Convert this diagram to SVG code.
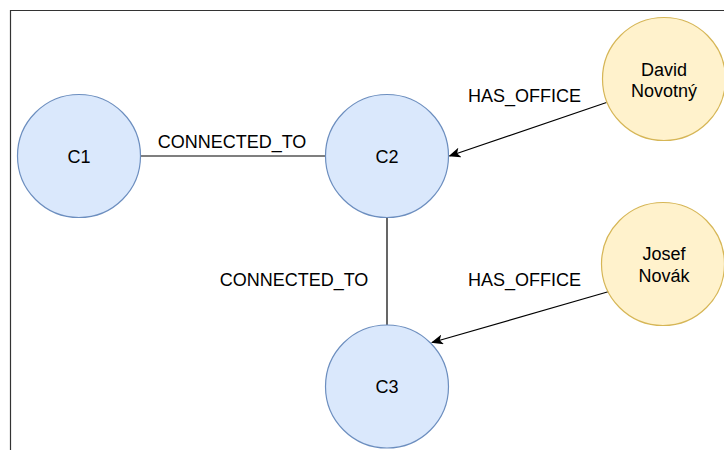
<svg xmlns="http://www.w3.org/2000/svg" width="724" height="450" viewBox="0 0 724 450">
  <style>
    text { font-family: "Liberation Sans", Arial, Helvetica, sans-serif; font-size: 18px; fill: #000; }
    .mid { text-anchor: middle; }
    .company circle { fill: #dae8fc; stroke: #6c8ebf; stroke-width: 1.2; }
    .person circle { fill: #fff2cc; stroke: #d6b656; stroke-width: 1.2; }
    .edge { stroke: #000; stroke-width: 1.2; fill: none; }
  </style>
  <defs>
    <marker id="arrow" viewBox="0 0 12 10" refX="11" refY="5" markerWidth="12" markerHeight="10" markerUnits="userSpaceOnUse" orient="auto">
      <path d="M0,0 L12,5 L0,10 L3,5 Z" fill="#000"/>
    </marker>
  </defs>

  <rect fill="#fff" width="724" height="450"/>
  <!-- page frame -->
  <path d="M10.5,460 V10.5 H740" fill="none" stroke="#333" stroke-width="1.2"/>

  <g id="connectors">
    <line class="edge" x1="140" y1="156" x2="325.5" y2="156"/>
    <text class="mid" x="232" y="147.5">CONNECTED_TO</text>
    <line class="edge" x1="387" y1="217.5" x2="387" y2="325"/>
    <text class="mid" x="294" y="286">CONNECTED_TO</text>
    <line class="edge" x1="606.5" y1="102.5" x2="449.5" y2="156" marker-end="url(#arrow)"/>
    <text class="mid" x="524.5" y="102">HAS_OFFICE</text>
    <line class="edge" x1="609" y1="291.5" x2="432" y2="342.5" marker-end="url(#arrow)"/>
    <text class="mid" x="524.5" y="286">HAS_OFFICE</text>
  </g>

  <g id="C1" class="company">
    <circle cx="79" cy="156" r="61.5"/>
    <text class="mid" x="79" y="162.5">C1</text>
  </g>
  <g id="C2" class="company">
    <circle cx="387" cy="156" r="61.5"/>
    <text class="mid" x="387" y="162.5">C2</text>
  </g>
  <g id="C3" class="company">
    <circle cx="387" cy="386.5" r="61.5"/>
    <text class="mid" x="387" y="393">C3</text>
  </g>
  <g id="david" class="person">
    <circle cx="664" cy="79" r="61.5"/>
    <text class="mid" x="664" y="76">David</text>
    <text class="mid" x="664" y="97">Novotný</text>
  </g>
  <g id="josef" class="person">
    <circle cx="663" cy="264" r="61.5"/>
    <text class="mid" x="664" y="260">Josef</text>
    <text class="mid" x="664" y="281.5">Novák</text>
  </g>
</svg>
